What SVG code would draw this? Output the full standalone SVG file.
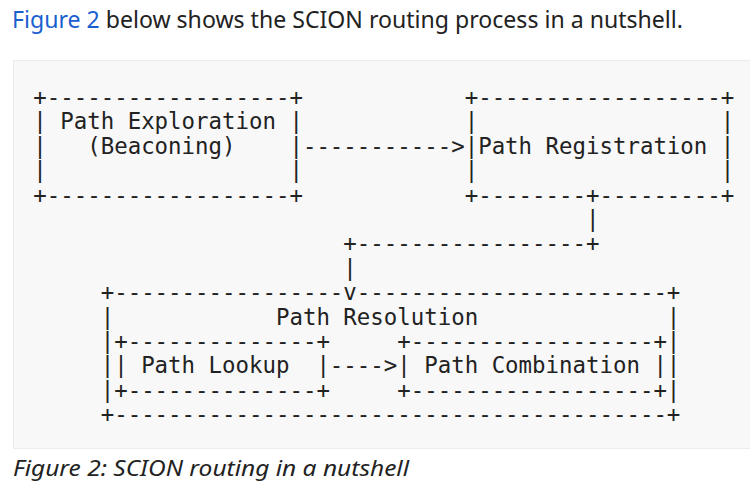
<svg xmlns="http://www.w3.org/2000/svg" width="750" height="497" viewBox="0 0 750 497">
<style>
.m{font-family:"DejaVu Sans Mono","Liberation Mono",monospace;font-size:22.4px;fill:#222;white-space:pre}
.p{font-family:"Noto Sans","Open Sans",sans-serif;fill:#222}
</style>
<rect width="750" height="497" fill="#fff"/>
<text class="p" x="12" y="28" font-size="23" textLength="671" lengthAdjust="spacingAndGlyphs"><tspan fill="#1a5fd0">Figure 2</tspan> below shows the SCION routing process in a nutshell.</text>
<rect x="13.5" y="60.5" width="740" height="388" fill="#f8f8f8" stroke="#ececec"/>
<g id="ascii" xml:space="preserve">
<text class="m" x="33.3" y="105">+------------------+            +------------------+</text>
<text class="m" x="33.3" y="129.4">| Path Exploration |            |                  |</text>
<text class="m" x="33.3" y="153.8">|   (Beaconing)    |----------->|Path Registration |</text>
<text class="m" x="33.3" y="178.2">|                  |            |                  |</text>
<text class="m" x="33.3" y="202.6">+------------------+            +--------+---------+</text>
<text class="m" x="33.3" y="227">                                         |</text>
<text class="m" x="33.3" y="251.4">                       +-----------------+</text>
<text class="m" x="33.3" y="275.8">                       |</text>
<text class="m" x="33.3" y="300.2">     +-----------------v-----------------------+</text>
<text class="m" x="33.3" y="324.6">     |            Path Resolution              |</text>
<text class="m" x="33.3" y="349">     |+--------------+     +------------------+|</text>
<text class="m" x="33.3" y="373.4">     || Path Lookup  |----&gt;| Path Combination ||</text>
<text class="m" x="33.3" y="397.8">     |+--------------+     +------------------+|</text>
<text class="m" x="33.3" y="422.2">     +-----------------------------------------+</text>
</g>
<text class="p" x="13" y="476" font-size="22" font-style="italic" textLength="396" lengthAdjust="spacingAndGlyphs">Figure 2: SCION routing in a nutshell</text>
</svg>
